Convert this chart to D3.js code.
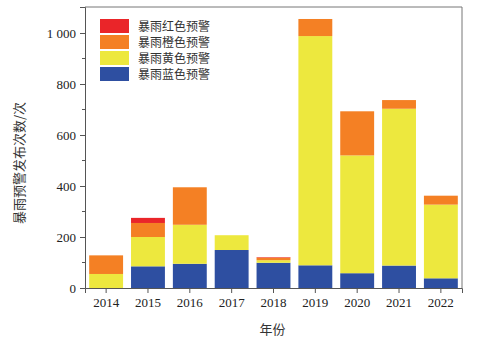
<!DOCTYPE html>
<html>
<head>
<meta charset="utf-8">
<script src="https://cdn.jsdelivr.net/npm/d3@7"></script>
<style>
  html, body { margin: 0; padding: 0; background: #fff; }
  svg { display: block; }
</style>
</head>
<body>
<svg id="chart" width="481" height="348"></svg>
<script>
// Heavy-rain warnings issued per year, by warning level
const years = ["2014", "2015", "2016", "2017", "2018", "2019", "2020", "2021", "2022"];
const blueWarnings   = [0, 85, 95, 149, 99, 89, 58, 88, 38];
const yellowWarnings = [55, 115, 153, 58, 10, 899, 462, 615, 289];
const orangeWarnings = [73, 55, 147, 0, 10, 67, 173, 34, 35];
const redWarnings    = [0, 20, 0, 0, 2, 0, 0, 0, 0];
const seriesNames = ["暴雨蓝色预警", "暴雨黄色预警", "暴雨橙色预警", "暴雨红色预警"];
const seriesColors = ["#2e4fa1", "#ede83e", "#f48024", "#ea2529"];
const yTicks = [0, 200, 400, 600, 800, 1000];
const yMinorTicks = [100, 300, 500, 700, 900];

const svg = d3.select("#chart");
const margin = { left: 85, right: 19, top: 7, bottom: 60 };
const W = 481, H = 348;

const rows = years.map((y, i) => ({
  year: y,
  blue: blueWarnings[i],
  yellow: yellowWarnings[i],
  orange: orangeWarnings[i],
  red: redWarnings[i]
}));
const keys = ["blue", "yellow", "orange", "red"];
const stacked = d3.stack().keys(keys)(rows);

const x = d3.scaleBand().domain(years)
  .range([margin.left, W - margin.right])
  .paddingInner(0.19).paddingOuter(0.1);
const y = d3.scaleLinear().domain([0, 1102]).range([H - margin.bottom, margin.top]);

const serif = "'Liberation Serif', 'Times New Roman', serif";
const cjk = "'Noto Sans CJK SC', sans-serif";

// bars
svg.append("g").selectAll("g").data(stacked).join("g")
  .attr("fill", (d, i) => seriesColors[i])
  .selectAll("rect").data(d => d.filter(s => s[1] - s[0] > 0)).join("rect")
  .attr("x", d => x(d.data.year))
  .attr("width", x.bandwidth())
  .attr("y", d => y(d[1]))
  .attr("height", d => y(d[0]) - y(d[1]));

// frame (top and right)
svg.append("path")
  .attr("d", `M${margin.left},${margin.top}H${W - margin.right}V${H - margin.bottom}`)
  .attr("fill", "none").attr("stroke", "#777").attr("stroke-width", 1);

// y axis
const yAxis = svg.append("g").attr("transform", `translate(${margin.left},0)`)
  .call(d3.axisLeft(y).tickValues(yTicks).tickSize(5).tickPadding(4)
    .tickFormat(d => d >= 1000 ? d3.format(",")(d).replace(",", " ") : d));
yAxis.append("g").selectAll("line").data(yMinorTicks).join("line")
  .attr("x1", 0).attr("x2", -3).attr("y1", d => y(d)).attr("y2", d => y(d))
  .attr("stroke", "#555");

// x axis
const xAxis = svg.append("g").attr("transform", `translate(0,${H - margin.bottom})`)
  .call(d3.axisBottom(x).tickSize(5).tickPadding(5));

[yAxis, xAxis].forEach(a => {
  a.attr("font-family", serif).attr("font-size", 13);
  a.select(".domain").attr("stroke", "#555");
  a.selectAll(".tick line").attr("stroke", "#555");
  a.selectAll("text").attr("font-family", serif).attr("font-size", 13).attr("fill", "#222");
});

// axis titles
svg.append("text")
  .attr("x", (margin.left + W - margin.right) / 2 - 1)
  .attr("y", 334)
  .attr("text-anchor", "middle")
  .attr("font-family", cjk).attr("font-size", 13).attr("fill", "#333")
  .text("年份");
svg.append("text")
  .attr("transform", `translate(24,163) rotate(-90)`)
  .attr("text-anchor", "middle")
  .attr("font-family", cjk).attr("font-size", 13).attr("fill", "#333")
  .text("暴雨预警发布次数/次");

// legend, red first
const legend = svg.append("g").attr("transform", "translate(100,19)");
const order = [3, 2, 1, 0];
order.forEach((si, i) => {
  const g = legend.append("g").attr("transform", `translate(0,${i * 16})`);
  g.append("rect").attr("width", 29).attr("height", 14).attr("fill", seriesColors[si]);
  g.append("text").attr("x", 38).attr("y", 11.5)
    .attr("font-family", cjk).attr("font-size", 12).attr("fill", "#333")
    .text(seriesNames[si]);
});
</script>
</body>
</html>
